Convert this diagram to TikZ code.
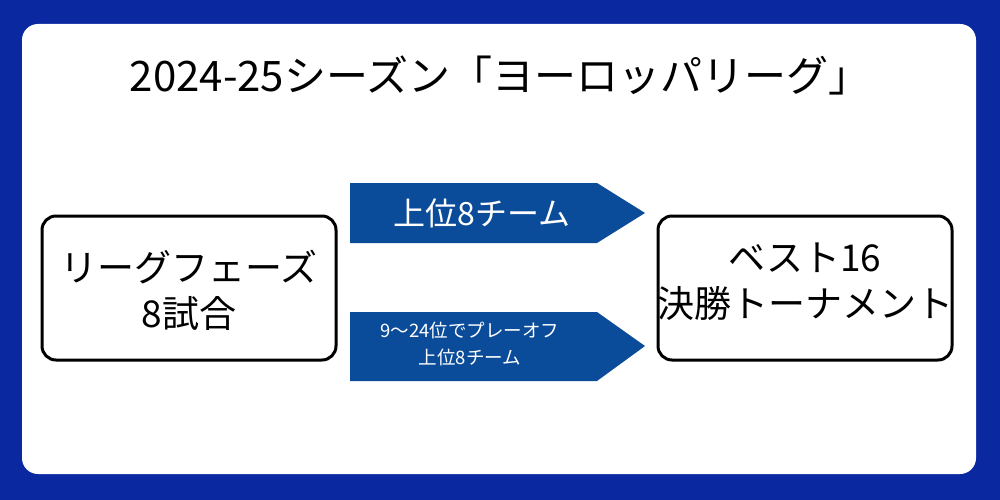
\documentclass[tikz,border=0pt]{standalone}
\usepackage{fontspec}
\setmainfont{Noto Sans CJK JP}
\newfontfamily\titlefont{Noto Sans CJK JP}
\definecolor{frameblue}{HTML}{0A28A0}
\definecolor{arrowblue}{HTML}{0B4C9A}
\begin{document}
\begin{tikzpicture}[x=1pt,y=-1pt,
        stagebox/.style={draw, line width=3pt, rounded corners=14pt, fill=white},
        etapa/.style={align=center, font=\fontsize{37}{46}\selectfont}
    ]

    % Fondo
    \fill[frameblue] (0,0) rectangle (1000,500);
    \fill[white, rounded corners=16pt] (22,24) rectangle (976,474);

    % Titulo
    \node[font=\titlefont\fontsize{42}{48}\selectfont] (titulo) at (500,75) {2024-25シーズン「ヨーロッパリーグ」};

    % Etapas
    \draw[stagebox] (42,216) rectangle (336,360);
    \node[etapa] (liga) at (189,290) {リーグフェーズ\\8試合};
    \draw[stagebox] (658,216) rectangle (952,360);
    \node[etapa] (final) at (805,282) {ベスト16\\決勝トーナメント};

    % Flechas
    \fill[arrowblue] (350,183) -- (597,183) -- (645,213) -- (597,243) -- (350,243) -- cycle;
    \node[text=white, font=\fontsize{32}{36}\selectfont] (top8) at (482,213) {上位8チーム};
    \fill[arrowblue] (350,312) -- (597,312) -- (645,346) -- (597,381) -- (350,381) -- cycle;
    \node[text=white, align=center, font=\fontsize{18.5}{27}\selectfont] (playoff) at (470,344) {9〜24位でプレーオフ\\上位8チーム};
\end{tikzpicture}
\end{document}
